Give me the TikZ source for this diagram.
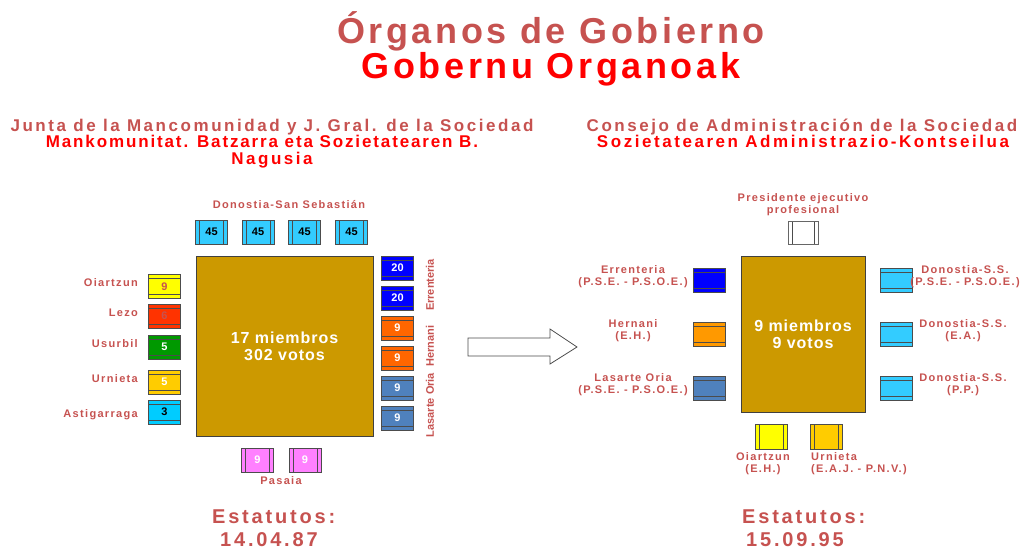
\documentclass[tikz,border=0pt]{standalone}
\usepackage{fontspec}
\setmainfont{Liberation Sans}
\newfontfamily\titlefont[LetterSpace=10]{Liberation Sans}
\newfontfamily\headfont[LetterSpace=15]{Liberation Sans}
\newfontfamily\headnarrowfont[LetterSpace=11]{Liberation Sans}
\newfontfamily\lblfont[LetterSpace=12]{Liberation Sans}
\newfontfamily\tabfont[LetterSpace=6]{Liberation Sans}
\newfontfamily\statfont[LetterSpace=14]{Liberation Sans}
\usepackage{xcolor}
\usepackage{tikz}
\usetikzlibrary{positioning}

\definecolor{mutedred}{RGB}{198,82,80}
\definecolor{brightred}{RGB}{255,0,0}
\definecolor{tablegold}{RGB}{204,153,0}
\definecolor{skyblue}{RGB}{51,204,255}
\definecolor{cyanblue}{RGB}{0,204,255}
\definecolor{royalblue}{RGB}{0,0,255}
\definecolor{deeporange}{RGB}{255,102,0}
\definecolor{lightorange}{RGB}{255,153,0}
\definecolor{steelblue}{RGB}{79,129,189}
\definecolor{lemon}{RGB}{255,255,0}
\definecolor{amber}{RGB}{255,204,0}
\definecolor{vermilion}{RGB}{255,51,0}
\definecolor{grassgreen}{RGB}{0,153,0}
\definecolor{pinkchair}{RGB}{255,128,255}

\newcommand{\fsz}[2]{\fontsize{#1}{#2}\selectfont}

\tikzset{
	chair/.style={draw=black!70, line width=0.8pt, minimum width=32pt, minimum height=24pt, inner sep=0pt, font=\bfseries\fsz{11}{12}},
	hchair/.style={chair, fill=#1, path picture={
		\draw[black!70, line width=0.6pt] ([yshift=-4pt]path picture bounding box.north west) -- ([yshift=-4pt]path picture bounding box.north east)
			([yshift=4pt]path picture bounding box.south west) -- ([yshift=4pt]path picture bounding box.south east);}},
	vchair/.style={chair, fill=#1, path picture={
		\draw[black!70, line width=0.6pt] ([xshift=4pt]path picture bounding box.north west) -- ([xshift=4pt]path picture bounding box.south west)
			([xshift=-4pt]path picture bounding box.north east) -- ([xshift=-4pt]path picture bounding box.south east);}},
	table/.style={draw=black!75, line width=0.8pt, fill=tablegold, text=white, align=center, font=\tabfont\bfseries\fsz{16}{17}},
	seatlabel/.style={text=mutedred, align=center, inner sep=0pt, font=\lblfont\bfseries\fsz{11}{12}},
	sidelabel/.style={text=mutedred, inner sep=0pt, rotate=90, font=\bfseries\fsz{11}{12}},
	headline/.style={anchor=base, inner sep=0pt, font=\headfont\bfseries\fsz{17}{17}},
	titleline/.style={anchor=base, inner sep=0pt, font=\titlefont\bfseries\fsz{36}{36}},
	statute/.style={anchor=north west, align=left, inner sep=0pt, text=mutedred, font=\statfont\bfseries\fsz{20}{22.5}},
}

\begin{document}
\begin{tikzpicture}[x=1pt, y=-1pt]
				\useasboundingbox (0,0) rectangle (1025,549);
				% Titles:
				\node[titleline, text=mutedred](T1) at (551, 43){Órganos de Gobierno};
				\node[titleline, text=brightred](T2) at (551, 78){Gobernu Organoak};
				\node[headline, text=mutedred](L1) at (272, 131){Junta de la Mancomunidad y J. Gral. de la Sociedad};
				\node[headline, text=brightred, font=\headnarrowfont\bfseries\fsz{17}{17}](L2) at (262, 147){Mankomunitat. Batzarra eta Sozietatearen B.};
				\node[headline, text=brightred](L3) at (272, 164){Nagusia};
				\node[headline, text=mutedred](R1) at (802, 131){Consejo de Administración de la Sociedad};
				\node[headline, text=brightred](R2) at (803, 147){Sozietatearen Administrazio-Kontseilua};
				% Junta table and seats:
				\node[table, minimum width=177pt, minimum height=180pt](JT) at (284.5, 346){17 miembros\\302 votos};
				\node[vchair=skyblue](D1) at (211.5, 232){45};
				\node[vchair=skyblue](D2) at (258, 232){45};
				\node[vchair=skyblue](D3) at (304.5, 232){45};
				\node[vchair=skyblue](D4) at (351.5, 232){45};
				\node[seatlabel](DL) at (289, 205){Donostia-San Sebastián};
				\node[hchair=lemon, text=mutedred](O1) at (164.5, 286.5){9};
				\node[hchair=vermilion, text=mutedred](LZ) at (164.5, 316){6};
				\node[hchair=grassgreen, text=white](US) at (164.5, 347){5};
				\node[hchair=amber, text=white](UR) at (164.5, 382){5};
				\node[hchair=cyanblue, text=black](AS) at (164.5, 412){3};
				\node[seatlabel, anchor=east](O1L) at (138, 283){Oiartzun};
				\node[seatlabel, anchor=east](LZL) at (138, 313){Lezo};
				\node[seatlabel, anchor=east](USL) at (138, 344){Usurbil};
				\node[seatlabel, anchor=east](URL) at (138, 379){Urnieta};
				\node[seatlabel, anchor=east](ASL) at (138, 415){Astigarraga};
				\node[hchair=royalblue, text=white](E1) at (397.5, 268){20};
				\node[hchair=royalblue, text=white](E2) at (397.5, 298){20};
				\node[hchair=deeporange, text=white](H1) at (397.5, 328){9};
				\node[hchair=deeporange, text=white](H2) at (397.5, 358){9};
				\node[hchair=steelblue, text=white](LO1) at (397.5, 388){9};
				\node[hchair=steelblue, text=white](LO2) at (397.5, 418){9};
				\node[sidelabel](EL) at (430, 285){Errenteria};
				\node[sidelabel](HL) at (430, 346){Hernani};
				\node[sidelabel](LOL) at (430, 405){Lasarte Oria};
				\node[vchair=pinkchair, text=white](P1) at (257.5, 460){9};
				\node[vchair=pinkchair, text=white](P2) at (305, 460){9};
				\node[seatlabel](PL) at (281, 481){Pasaia};
				% Arrow between both organs:
				\draw[black!70, line width=0.8pt, fill=white] (468, 338) -- (550, 338) -- (550, 329) -- (577, 347) -- (550, 364) -- (550, 356) -- (468, 356) -- cycle;
				% Consejo table and seats:
				\node[table, minimum width=124pt, minimum height=156pt](CT) at (803, 334){9 miembros\\9 votos};
				\node[vchair=white, draw=black!60, minimum width=30pt, minimum height=23pt](PR) at (803, 232.5){};
				\node[seatlabel](PRL) at (803, 204.5){Presidente ejecutivo\\profesional};
				\node[hchair=royalblue](CE) at (709.5, 280){};
				\node[hchair=lightorange](CH) at (709.5, 334){};
				\node[hchair=steelblue](CL) at (709.5, 388.5){};
				\node[seatlabel](CEL) at (633, 277){Errenteria\\(P.S.E. - P.S.O.E.)};
				\node[seatlabel](CHL) at (633, 331){Hernani\\(E.H.)};
				\node[seatlabel](CLL) at (633, 385){Lasarte Oria\\(P.S.E. - P.S.O.E.)};
				\node[hchair=skyblue](CD1) at (896, 280){};
				\node[hchair=skyblue](CD2) at (896, 334){};
				\node[hchair=skyblue](CD3) at (896, 388){};
				\node[seatlabel](CD1L) at (965, 277){Donostia-S.S.\\(P.S.E. - P.S.O.E.)};
				\node[seatlabel](CD2L) at (963, 331){Donostia-S.S.\\(E.A.)};
				\node[seatlabel](CD3L) at (963, 385){Donostia-S.S.\\(P.P.)};
				\node[vchair=lemon, minimum height=25pt](CO) at (771.5, 436.5){};
				\node[vchair=amber, minimum height=25pt](CU) at (826, 436.5){};
				\node[seatlabel](COL) at (763, 464){Oiartzun\\(E.H.)};
				\node[seatlabel, align=left, anchor=west](CUL) at (811, 464){Urnieta\\(E.A.J. - P.N.V.)};
				% Statutes:
				\node[statute](S1) at (212, 509.7){Estatutos:\\\hspace*{8pt}14.04.87};
				\node[statute](S2) at (742, 509.7){Estatutos:\\\hspace*{4pt}15.09.95};
			\end{tikzpicture}
\end{document}
